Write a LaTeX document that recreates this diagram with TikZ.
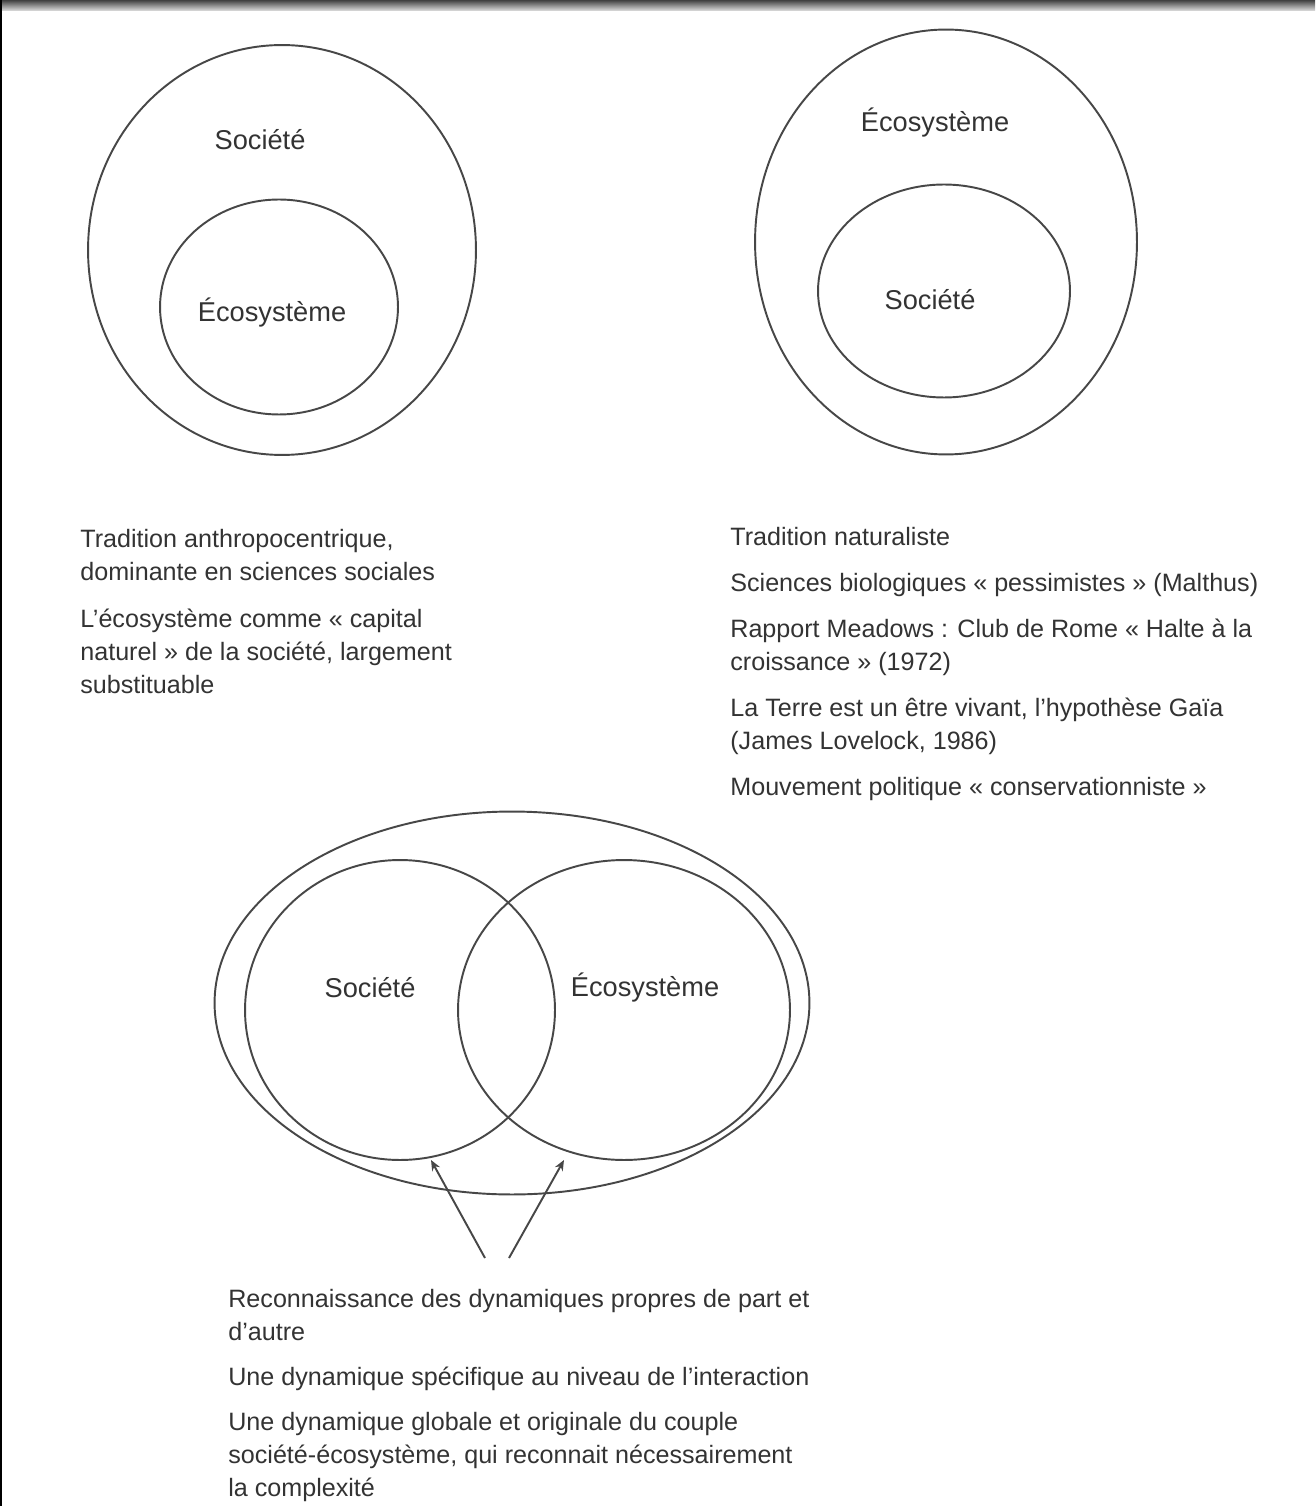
\documentclass[tikz,border=0pt]{standalone}
\usepackage{fontspec}
\setmainfont{Liberation Sans}
\usetikzlibrary{shapes.geometric,arrows.meta}
\begin{document}
\begin{tikzpicture}[x=0.02cm,y=-0.02cm,
  ring/.style={ellipse,draw=black!72,line width=1.1pt,inner sep=0pt},
  lbl/.style={font=\fontsize{15.5}{18}\selectfont,text=black!80,inner sep=0pt},
  body/.style={font=\fontsize{14.3}{18.8}\selectfont,text=black!80,align=left,anchor=north west,inner sep=0pt},
  arr/.style={draw=black!72,line width=1.1pt,-{Stealth[length=6pt,width=5pt]}}]
\useasboundingbox (0,0) rectangle (1315,1506);
\fill[white] (0,0) rectangle (1315,1506);
\shade[top color=black!75,bottom color=black!12] (0,0) rectangle (1315,11);
\fill[black] (0,0) rectangle (1.5,1506);

% top-left
\node[ring,minimum width=7.76cm,minimum height=8.2cm] (tlout) at (282,250) {};
\node[ring,minimum width=4.76cm,minimum height=4.3cm] (tlin) at (279,307) {};
\node[lbl] (tlsoc) at (260,140) {Société};
\node[lbl] (tleco) at (272,313) {Écosystème};

% top-right
\node[ring,minimum width=7.64cm,minimum height=8.5cm] (trout) at (946,242) {};
\node[ring,minimum width=5.04cm,minimum height=4.26cm] (trin) at (944,291) {};
\node[lbl] (treco) at (935,123) {Écosystème};
\node[lbl] (trsoc) at (930,300) {Société};

% bottom
\node[ring,minimum width=11.9cm,minimum height=7.66cm] (bout) at (512,1003) {};
\node[ring,minimum width=6.2cm,minimum height=6.0cm] (bsoc) at (400,1010) {};
\node[ring,minimum width=6.64cm,minimum height=6.0cm] (beco) at (624,1010) {};
\node[lbl] (bsoclbl) at (370,988) {Société};
\node[lbl] (becolbl) at (645,988) {Écosystème};

\coordinate (t1) at (485,1258);
\coordinate (t2) at (509,1258);
\coordinate (h1) at (431,1160);
\coordinate (h2) at (564,1160);
\draw[arr] (t1) -- (h1);
\draw[arr] (t2) -- (h2);

% texts
\node[body] (txtl) at (80,529) {Tradition anthropocentrique,\\
dominante en sciences sociales\\[0.28cm]
L'écosystème comme «~capital\\
naturel~» de la société, largement\\
substituable};

\node[body] (txtr) at (730,527) {Tradition naturaliste\\[0.26cm]
Sciences biologiques «~pessimistes~» (Malthus)\\[0.26cm]
Rapport Meadows : Club de Rome «~Halte à la\\
croissance~» (1972)\\[0.26cm]
La Terre est un être vivant, l'hypothèse Gaïa\\
(James Lovelock, 1986)\\[0.26cm]
Mouvement politique «~conservationniste~»};

\node[body] (txtb) at (228,1289) {Reconnaissance des dynamiques propres de part et\\
d'autre\\[0.24cm]
Une dynamique spécifique au niveau de l'interaction\\[0.24cm]
Une dynamique globale et originale du couple\\
société-écosystème, qui reconnait nécessairement\\
la complexité};
\end{tikzpicture}
\end{document}
